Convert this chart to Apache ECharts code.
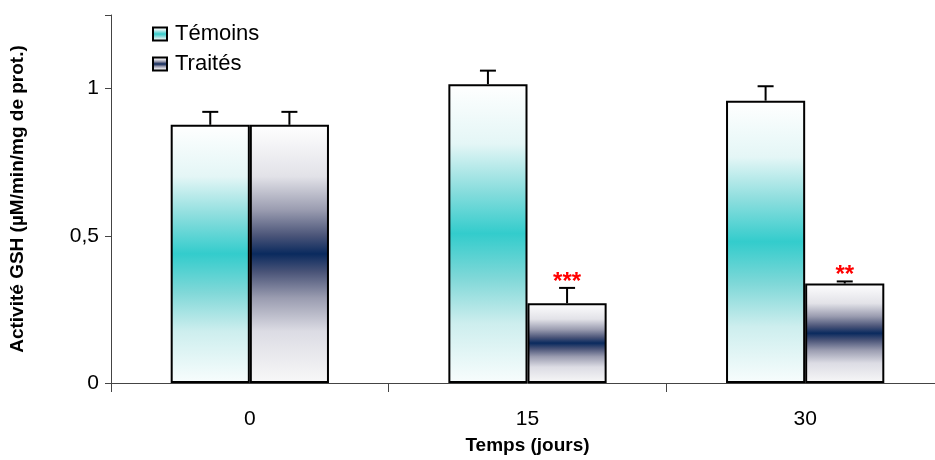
<!DOCTYPE html>
<html><head><meta charset="utf-8">
<script src="https://cdn.jsdelivr.net/npm/echarts@6/dist/echarts.min.js"></script>
<style>html,body{margin:0;padding:0;background:#fff;overflow:hidden}#c{width:944px;height:460px}</style>
</head><body><div id="c"></div>
<script>
const categories = ['0', '15', '30'];
const temoins = [0.877, 1.015, 0.959];
const temoinsErr = [0.044, 0.046, 0.049];
const traites = [0.877, 0.271, 0.338];
const traitesErr = [0.044, 0.052, 0.007];
const traitesSig = ['', '***', '**'];
const yTicks = ['0', '0,5', '1'];

const FONT = 'Liberation Sans, Arial, sans-serif';
function gradT() {
  return new echarts.graphic.LinearGradient(0, 0, 0, 1, [
    {offset: 0, color: '#ffffff'}, {offset: 0.2, color: '#e4f6f6'}, {offset: 0.35, color: '#8ddede'},
    {offset: 0.5, color: '#33cccc'}, {offset: 0.65, color: '#80d8d8'}, {offset: 0.8, color: '#cdeeee'},
    {offset: 1, color: '#f8fdfd'}
  ]);
}
function gradN() {
  return new echarts.graphic.LinearGradient(0, 0, 0, 1, [
    {offset: 0, color: '#ffffff'}, {offset: 0.2, color: '#e2e2e8'}, {offset: 0.33, color: '#9a9cb0'},
    {offset: 0.43, color: '#4a5478'}, {offset: 0.5, color: '#0a2a5e'}, {offset: 0.57, color: '#4a5478'},
    {offset: 0.67, color: '#9a9cb0'}, {offset: 0.8, color: '#dcdce4'}, {offset: 1, color: '#f8f8f8'}
  ]);
}
const BAR_FRAC = 0.57;
function errSeries(vals, errs, side, sig) {
  return {
    type: 'custom', silent: true, z: 5,
    data: vals.map((v, i) => [i, v, errs[i]]),
    renderItem: function (params, api) {
      const band = api.size([1, 0])[0];
      const off = side * band * BAR_FRAC / 4;
      const base = api.coord([api.value(0), api.value(1)]);
      const top = api.coord([api.value(0), api.value(1) + api.value(2)]);
      const x = base[0] + off;
      const children = [
        {type: 'line', shape: {x1: x, y1: base[1], x2: x, y2: top[1]}, style: {stroke: '#000', lineWidth: 2}},
        {type: 'line', shape: {x1: x - 8, y1: top[1], x2: x + 8, y2: top[1]}, style: {stroke: '#000', lineWidth: 2}}
      ];
      const s = sig ? sig[params.dataIndex] : '';
      if (s) {
        children.push({type: 'text', x: x, y: top[1] + 6, style: {text: s, fill: '#ff0000', font: 'bold 24px ' + FONT, align: 'center', verticalAlign: 'bottom'}});
      }
      return {type: 'group', children: children};
    }
  };
}

const chart = echarts.init(document.getElementById('c'));
chart.setOption({
  animation: false,
  grid: {left: 110, top: 15, right: 0, bottom: 76, containLabel: false},
  legend: {
    left: 147, top: 18, orient: 'vertical', itemGap: 8, itemWidth: 14, itemHeight: 13, icon: 'rect',
    textStyle: {fontFamily: FONT, fontSize: 22, color: '#000', padding: [0, 0, 0, 3]},
    data: ['Témoins', 'Traités']
  },
  xAxis: {
    type: 'category', data: categories,
    name: 'Temps (jours)', nameLocation: 'middle', nameGap: 53,
    nameTextStyle: {fontFamily: FONT, fontSize: 19, fontWeight: 'bold', color: '#000'},
    axisLine: {lineStyle: {color: '#444', width: 1}},
    axisTick: {show: true, length: 9, lineStyle: {color: '#444'}},
    axisLabel: {fontFamily: FONT, fontSize: 21, color: '#000', margin: 26}
  },
  yAxis: {
    type: 'value', min: 0, max: 1.25, interval: 0.5,
    name: 'Activité GSH (µM/min/mg de prot.)', nameLocation: 'middle', nameGap: 84, nameRotate: 90,
    nameTextStyle: {fontFamily: FONT, fontSize: 19, fontWeight: 'bold', color: '#000'},
    splitLine: {show: false},
    axisLine: {show: true, lineStyle: {color: '#444', width: 1}},
    axisTick: {show: true, inside: false, length: 6, lineStyle: {color: '#444'}},
    axisLabel: {
      fontFamily: FONT, fontSize: 21, color: '#000', margin: 12,
      formatter: function (v) { const i = Math.round(v / 0.5); return Math.abs(v - i * 0.5) < 1e-6 && i < yTicks.length ? yTicks[i] : ''; }
    }
  },
  series: [
    {name: 'Témoins', type: 'bar', data: temoins, barGap: '0%', barCategoryGap: '43%',
     itemStyle: {color: gradT(), borderColor: '#000', borderWidth: 2}},
    {name: 'Traités', type: 'bar', data: traites,
     itemStyle: {color: gradN(), borderColor: '#000', borderWidth: 2}},
    errSeries(temoins, temoinsErr, -1, null),
    errSeries(traites, traitesErr, 1, traitesSig)
  ]
});
</script></body></html>
